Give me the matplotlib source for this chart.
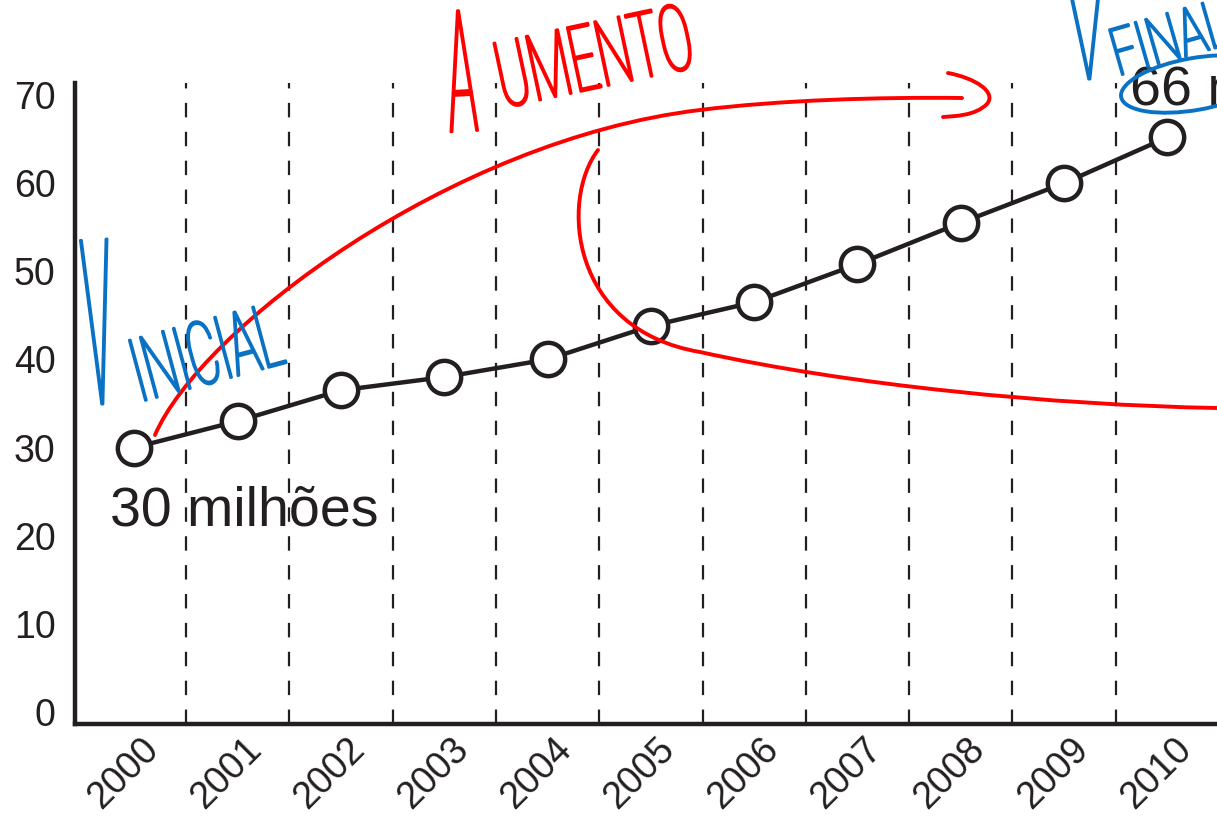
import numpy as np
import matplotlib
matplotlib.use("Agg")
import matplotlib.pyplot as plt
from matplotlib.path import Path
from matplotlib.patches import PathPatch, Ellipse
from matplotlib.textpath import TextPath
from matplotlib.font_manager import FontProperties
from matplotlib.transforms import Affine2D, ScaledTranslation

# data (milhões)
years = ["2000", "2001", "2002", "2003", "2004", "2005",
         "2006", "2007", "2008", "2009", "2010"]
values = [30, 33, 36.5, 38, 40, 43.8, 46.5, 50.8, 55.5, 60, 65.2]
yticks = [0, 10, 20, 30, 40, 50, 60, 70]

ink = "#231f20"
red = "#ff0000"
blue = "#0a72c4"

plt.rcParams["font.family"] = ["Liberation Sans", "DejaVu Sans"]

W, H = 1217, 817
fig = plt.figure(figsize=(W / 100, H / 100), dpi=100)
ax = fig.add_axes([75 / W, 93 / H, 1 - 75 / W, (724 - 83) / H])

x = np.arange(len(years))

# dashed separators between years
for xv in x[:-1] + 0.5:
    ax.axvline(xv, color=ink, lw=1.6, dashes=(6.5, 6.5), zorder=1)

ax.plot(x, values, color=ink, lw=3.2, marker="o", markersize=24,
        markerfacecolor="white", markeredgecolor=ink, markeredgewidth=3.2,
        zorder=3)

ax.set_xlim(-0.574, 10.48)
ax.set_ylim(-1.36, 71.36)
ax.set_yticks(yticks)
ax.set_xticks(x)
ax.set_xticklabels(years, rotation=45, ha="center")
ax.tick_params(length=0, labelsize=27, labelcolor=ink)
ax.tick_params(axis="y", pad=14)
ax.tick_params(axis="x", pad=5)
for lab in ax.get_xticklabels():
    lab.set_transform(lab.get_transform() +
                      ScaledTranslation(-0.11, 0, fig.dpi_scale_trans))

for s in ["top", "right"]:
    ax.spines[s].set_visible(False)
for s in ["left", "bottom"]:
    ax.spines[s].set_linewidth(3.2)
    ax.spines[s].set_color(ink)

ax.text(-0.235, 21.2, "30 milhões", fontsize=40, color=ink, zorder=2)
ax.text(9.64, 68.9, "66 milhões", fontsize=40, color=ink, zorder=2)

# ---- hand drawn notes (pixel coords, y down) ----
px = Affine2D().scale(0.01, -0.01).translate(0, H / 100) + fig.dpi_scale_trans


def stroke(verts, codes, color, lw=2.8):
    p = PathPatch(Path(verts, codes), fill=False, edgecolor=color, lw=lw,
                  capstyle="round", joinstyle="round", transform=px)
    fig.add_artist(p)


C4 = Path.CURVE4
stroke([(155, 435), (200, 330), (450, 140), (700, 110),
        (780, 100), (880, 97), (962, 98)],
       [Path.MOVETO, C4, C4, C4, C4, C4, C4], red)
stroke([(948, 73), (975, 78), (997, 92), (987, 104),
        (975, 116), (955, 116), (943, 117)],
       [Path.MOVETO, C4, C4, C4, C4, C4, C4], red)
stroke([(598, 150), (560, 200), (570, 330), (700, 352),
        (850, 385), (1050, 405), (1217, 408)],
       [Path.MOVETO, C4, C4, C4, C4, C4, C4], red)

hand = FontProperties(family="Roboto", weight="light")


def hand_text(s, x0, y0, sx, sy, rot, color):
    tp = TextPath((0, 0), s, size=1, prop=hand)
    t = (Affine2D().scale(sx, sy).rotate_deg(rot).translate(x0, H - y0)
         .scale(0.01) + fig.dpi_scale_trans)
    fig.add_artist(PathPatch(tp, facecolor=color, edgecolor=color, lw=1.8,
                             joinstyle="round", transform=t))


hand_text("A", 450, 132, 48, 170, 3, red)
hand_text("UMENTO", 503, 108, 49, 92, 12, red)

hand_text("V", 88, 405, 48, 232, 3, blue)
hand_text("INICIAL", 140, 402, 47, 88, 15, blue)

hand_text("V", 1075, 80, 48, 112, 3, blue)
hand_text("FINAL", 1118, 76, 45, 66, 16, blue)

fig.add_artist(Ellipse((1195, 84), 150, 52, angle=-10, fill=False,
                       edgecolor=blue, lw=2.8, transform=px))

fig.savefig("out.png", dpi=100)
